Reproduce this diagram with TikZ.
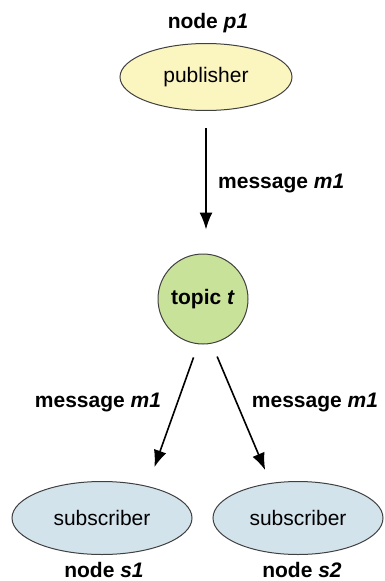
\documentclass[tikz,border=0pt]{standalone}
\usepackage{fontspec}
\setmainfont{Liberation Sans}
\usepackage{xcolor}
\usetikzlibrary{arrows,arrows.meta,shapes,positioning}

\definecolor{pubfill}{RGB}{251,245,192}
\definecolor{topicfill}{RGB}{201,226,154}
\definecolor{subfill}{RGB}{211,227,236}
\definecolor{rim}{RGB}{64,64,64}

\begin{document}
\begin{tikzpicture}[x=1pt, y=-1pt,
		font=\fontsize{21}{25}\selectfont,
		pubnode/.style={draw=rim, line width=1pt, ellipse, fill=pubfill, inner sep=0pt, minimum width=172pt, minimum height=67pt},
		topicnode/.style={draw=rim, line width=1pt, circle, fill=topicfill, inner sep=0pt, minimum size=90pt},
		subnode/.style={draw=rim, line width=1pt, ellipse, fill=subfill, inner sep=0pt, minimum width=180pt, minimum height=73pt},
		lbl/.style={font=\fontsize{21}{25}\selectfont\bfseries, inner sep=0pt},
		msg/.style={->, >={Latex[length=17pt,width=13pt]}, line width=1.6pt}]
			\useasboundingbox (0,0) rectangle (384,581);
			
			\node[lbl, anchor=base] (p1lab) at (208,28) {node \textit{p1}} ;
			\node[pubnode] (pub) at (206,77) {publisher} ;
			\node[topicnode] (topic) at (203,299) {\textbf{topic \textit{t}}} ;
			\node[subnode] (sub1) at (102,518) {subscriber} ;
			\node[subnode, minimum width=170pt] (sub2) at (298,518) {subscriber} ;
			
			\draw[msg, shorten <=17pt, shorten >=24pt] (pub.south) -- (pub.south |- topic.north) ;
			\draw[msg, shorten <=14pt, shorten >=20pt] (topic.264) -- (sub1.35) ;
			\draw[msg, shorten <=14pt, shorten >=14pt] (topic.281) -- (sub2.128) ;
			
			\node[lbl, anchor=base west] (m1top) at (218,188) {message \textit{m1}} ;
			\node[lbl, anchor=base] (m1left) at (98,407) {message \textit{m1}} ;
			\node[lbl, anchor=base] (m1right) at (315,407) {message \textit{m1}} ;
			\node[lbl, anchor=base] (s1lab) at (104,577) {node \textit{s1}} ;
			\node[lbl, anchor=base] (s2lab) at (302,577) {node \textit{s2}} ;
		\end{tikzpicture}
\end{document}
